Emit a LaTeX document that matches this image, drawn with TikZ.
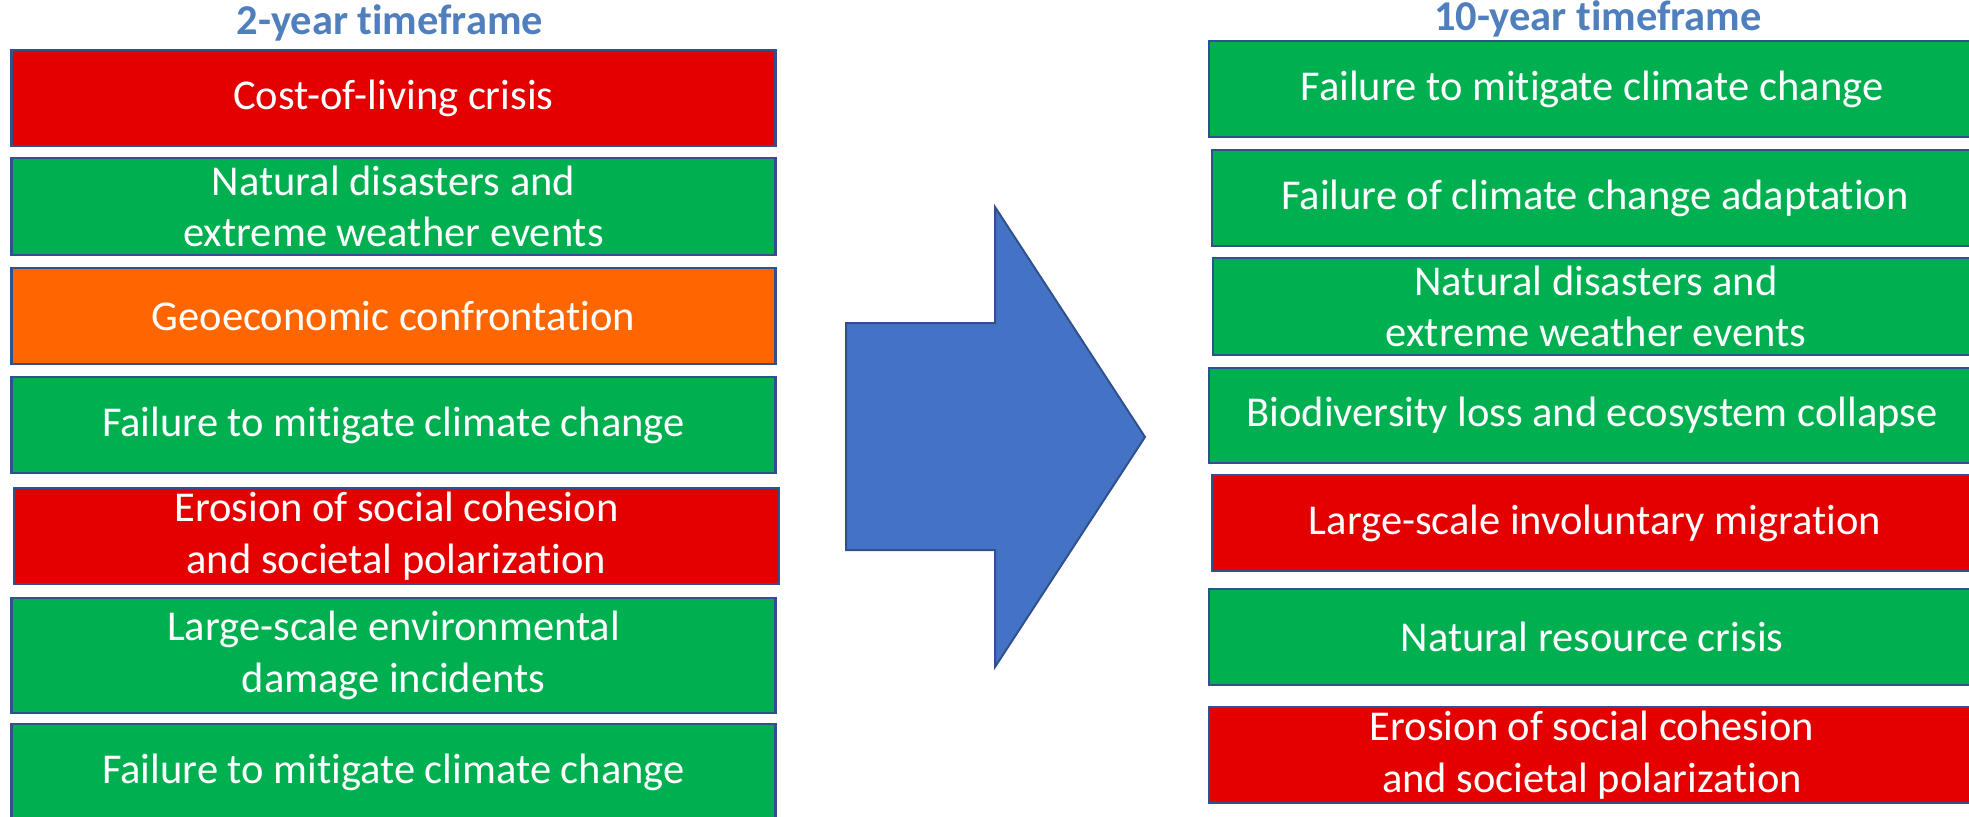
\documentclass[tikz,border=0pt]{standalone}
\usepackage{fontspec}
\setmainfont{Carlito}[Ligatures=CommonOff]
\definecolor{riskred}{HTML}{E50000}
\definecolor{riskgreen}{HTML}{00B050}
\definecolor{riskorange}{HTML}{FF6600}
\definecolor{boxborder}{HTML}{2F528F}
\definecolor{arrowblue}{HTML}{4472C4}
\definecolor{titleblue}{HTML}{4F7FBD}
\begin{document}
\begin{tikzpicture}[x=1pt,y=-1pt,
  riskbox/.style={draw=boxborder, line width=2.5pt, minimum width=764pt, minimum height=96pt,
    text=white, font=\fontsize{42.5}{51.5}\selectfont, align=center, inner sep=0pt, anchor=center},
  redbox/.style={riskbox, fill=riskred},
  greenbox/.style={riskbox, fill=riskgreen},
  orangebox/.style={riskbox, fill=riskorange},
  titletext/.style={text=titleblue, font=\fontsize{42.5}{50}\selectfont\bfseries, inner sep=0pt, anchor=base},
  bigarrow/.style={draw=boxborder, line width=2pt, fill=arrowblue, line join=miter}]
\useasboundingbox (0,0) rectangle (1969,816);

% left column
\node[titletext] (t1) at (390,35) {2-year timeframe};
\node[redbox] (l1) at (393.5,98) {Cost-of-living crisis};
\node[greenbox, minimum height=97pt] (l2) at (393.5,206.5) {Natural disasters and\\extreme weather events};
\node[orangebox] (l3) at (393.5,316) {Geoeconomic confrontation};
\node[greenbox] (l4) at (393.5,425) {Failure to mitigate climate change};
\node[redbox, minimum width=765pt] (l5) at (396.5,536) {Erosion of social cohesion\\and societal polarization};
\node[greenbox, minimum height=115pt] (l6) at (393.5,655.5) {Large-scale environmental\\damage incidents};
\node[greenbox] (l7) at (393.5,772) {Failure to mitigate climate change};

% arrow
\draw[bigarrow] (846,323) -- (995,323) -- (995,207) -- (1145,437) -- (995,667) -- (995,550) -- (846,550) -- cycle;

% right column
\node[titletext] (t2) at (1598,31) {10-year timeframe};
\node[greenbox, minimum width=766pt] (r1) at (1592,89) {Failure to mitigate climate change};
\node[greenbox, minimum width=766pt] (r2) at (1595,198) {Failure of climate change adaptation};
\node[greenbox, minimum width=766pt, minimum height=97pt] (r3) at (1596,306.5) {Natural disasters and\\extreme weather events};
\node[greenbox, minimum width=766pt, minimum height=95pt] (r4) at (1592,415.5) {Biodiversity loss and ecosystem collapse};
\node[redbox, minimum width=766pt] (r5) at (1595,523) {Large-scale involuntary migration};
\node[greenbox, minimum width=766pt] (r6) at (1592,637) {Natural resource crisis};
\node[redbox, minimum width=766pt] (r7) at (1592,755) {Erosion of social cohesion\\and societal polarization};
\end{tikzpicture}
\end{document}
